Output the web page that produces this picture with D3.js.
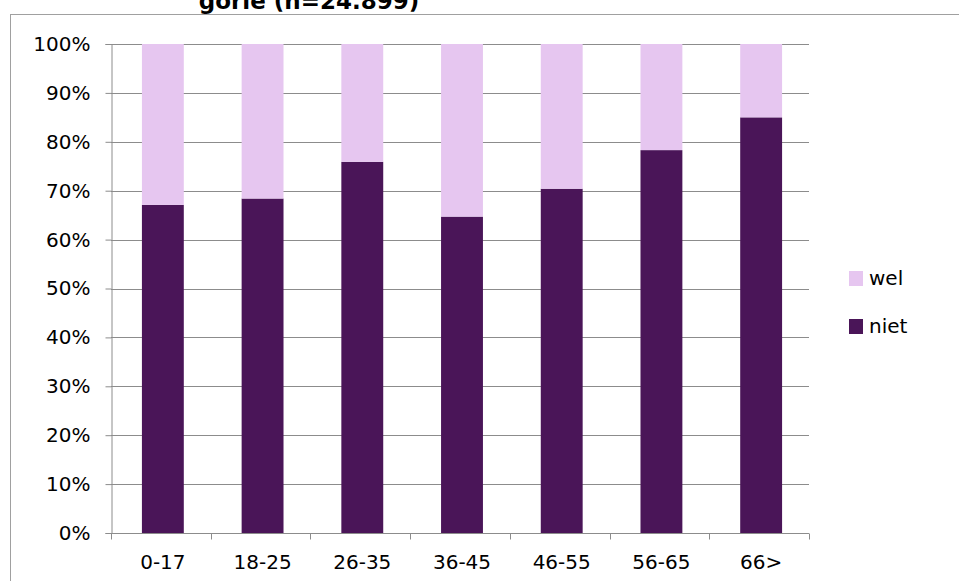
<!DOCTYPE html>
<html>
<head>
<meta charset="utf-8">
<script src="https://cdn.jsdelivr.net/npm/d3@7"></script>
<style>
  body { margin: 0; background: #fff; }
  text { font-family: "DejaVu Sans", Verdana, sans-serif; }
</style>
</head>
<body>
<div id="chart"></div>
<script>
// age groups and share (%) per answer
var categories = ["0-17", "18-25", "26-35", "36-45", "46-55", "56-65", "66>"];
var niet = [67.1, 68.4, 75.9, 64.7, 70.4, 78.3, 85.0];
var wel = niet.map(v => 100 - v);
var yTicks = [0, 10, 20, 30, 40, 50, 60, 70, 80, 90, 100];
var seriesNames = ["wel", "niet"];
var colors = { niet: "#4a1558", wel: "#e6c6f0" };

var width = 959, height = 581;
var margin = { left: 111, right: 150, top: 44, bottom: 48 };

var svg = d3.select("#chart").append("svg")
  .attr("width", width)
  .attr("height", height);

// outer chart frame
svg.append("rect")
  .attr("x", 10.5).attr("y", 14.5)
  .attr("width", 960).attr("height", 600)
  .attr("fill", "none").attr("stroke", "#a0a0a0");

// title (cut off at top, like the original)
svg.append("text")
  .attr("x", 309).attr("y", 9)
  .attr("text-anchor", "middle")
  .attr("font-size", 23).attr("font-weight", "bold")
  .text("gorie (n=24.899)");

// bars sit ~2px right of the band centre in the original
var x = d3.scaleBand()
  .domain(categories)
  .range([margin.left + 2, width - margin.right + 2])
  .paddingInner(0.58).paddingOuter(0.29);

var xOuter = d3.scaleBand()
  .domain(categories)
  .range([margin.left, width - margin.right]);

var y = d3.scaleLinear()
  .domain([0, 100])
  .range([height - margin.bottom, margin.top]);

// gridlines
svg.append("g").selectAll("line")
  .data(yTicks.slice(1))
  .enter().append("line")
  .attr("x1", margin.left).attr("x2", width - margin.right)
  .attr("y1", d => Math.round(y(d)) + 0.5).attr("y2", d => Math.round(y(d)) + 0.5)
  .attr("stroke", "#8c8c8c");

// stacked bars
var rows = categories.map((c, i) => ({ cat: c, niet: niet[i], wel: wel[i] }));
var stack = d3.stack().keys(["niet", "wel"])(rows);

svg.append("g").selectAll("g")
  .data(stack)
  .enter().append("g")
  .attr("fill", d => colors[d.key])
  .selectAll("rect")
  .data(d => d)
  .enter().append("rect")
  .attr("x", d => x(d.data.cat))
  .attr("width", x.bandwidth())
  .attr("y", d => y(d[1]))
  .attr("height", d => y(d[0]) - y(d[1]));

// y axis
var yAxis = svg.append("g")
  .attr("transform", "translate(" + (margin.left + 0.5) + ",0)")
  .call(d3.axisLeft(y).tickValues(yTicks).tickSize(6).tickPadding(15)
    .tickFormat(d => d + "%"));
yAxis.selectAll("line, path").attr("stroke", "#8c8c8c");
yAxis.selectAll("text").attr("font-size", 20).attr("fill", "#000")
  .attr("font-family", "DejaVu Sans, Verdana, sans-serif");

// x axis
var xAxis = svg.append("g")
  .attr("transform", "translate(0," + (Math.round(y(0)) + 0.5) + ")");
xAxis.append("line")
  .attr("x1", margin.left).attr("x2", width - margin.right)
  .attr("stroke", "#8c8c8c");
xAxis.selectAll("line.tick")
  .data(categories.concat(["end"]))
  .enter().append("line")
  .attr("class", "tick")
  .attr("x1", (d, i) => Math.round(margin.left + i * xOuter.bandwidth()) + 0.5)
  .attr("x2", (d, i) => Math.round(margin.left + i * xOuter.bandwidth()) + 0.5)
  .attr("y1", 0).attr("y2", 6)
  .attr("stroke", "#8c8c8c");
xAxis.selectAll("text")
  .data(categories)
  .enter().append("text")
  .attr("x", d => x(d) + x.bandwidth() / 2)
  .attr("y", 35)
  .attr("text-anchor", "middle")
  .attr("font-size", 20)
  .text(d => d);

// legend
var legend = svg.append("g").selectAll("g")
  .data(seriesNames)
  .enter().append("g")
  .attr("transform", (d, i) => "translate(849," + (271 + i * 48) + ")");
legend.append("rect")
  .attr("width", 14).attr("height", 15)
  .attr("fill", d => colors[d]);
legend.append("text")
  .attr("x", 20).attr("y", 14)
  .attr("font-size", 20)
  .text(d => d);
</script>
</body>
</html>
